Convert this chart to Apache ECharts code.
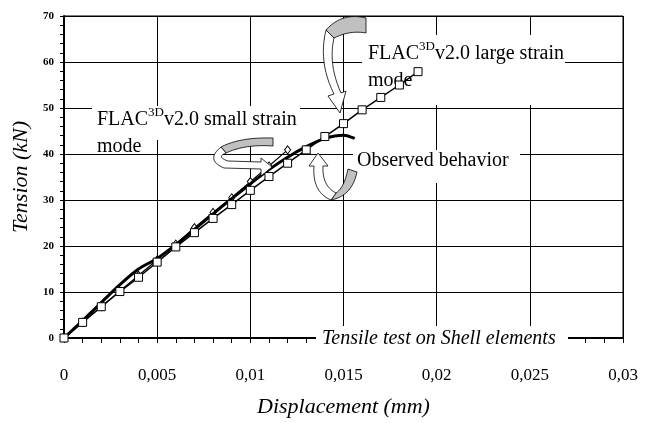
<!DOCTYPE html>
<html>
<head>
<meta charset="utf-8">
<script src="https://cdn.jsdelivr.net/npm/echarts@6/dist/echarts.min.js"></script>
<style>
  html, body { margin: 0; padding: 0; background: #fff; }
  #chart { width: 645px; height: 423px; }
</style>
</head>
<body>
<div id="chart"></div>
<script>
// data
const largeX = [0, 0.001, 0.002, 0.003, 0.004, 0.005, 0.006, 0.007, 0.008, 0.009, 0.010, 0.011, 0.012, 0.013, 0.014, 0.015, 0.016, 0.017, 0.018, 0.019];
const largeY = [0, 3.4, 6.8, 10.1, 13.2, 16.5, 19.8, 22.9, 26, 29, 32.1, 35.1, 38, 40.9, 43.8, 46.6, 49.6, 52.3, 55, 57.9];
const smallX = [0, 0.001, 0.002, 0.003, 0.004, 0.005, 0.006, 0.007, 0.008, 0.009, 0.010, 0.011, 0.012];
const smallY = [0, 3.4, 6.8, 10.2, 13.6, 17, 20.4, 24, 27.3, 30.5, 34, 37.4, 40.9];
const obsX = [0, 0.001, 0.002, 0.003, 0.004, 0.005, 0.006, 0.007, 0.008, 0.009, 0.010, 0.011, 0.012, 0.013, 0.014, 0.015, 0.0156];
const obsY = [0, 3.8, 7.7, 11.6, 15.0, 17.3, 20.3, 23.6, 27, 30.3, 33.5, 36.6, 39.3, 41.6, 43.4, 44.1, 43.4];

const serif = 'Liberation Serif';

function pairs(xs, ys){
    return xs.map((x, i) => [x, ys[i]]);
}

// turn a tiny M/L/Q path string into polygon points (decoration arrows only)
function pathPoints(d){
    const tok = d.match(/[MLQZ]|-?[\d.]+/g);
    const pts = [];
    let i = 0, cur = [0, 0];
    while (i < tok.length) {
        const c = tok[i++];
        if (c === 'M' || c === 'L') {
            cur = [+tok[i], +tok[i + 1]]; i += 2;
            pts.push(cur);
        } else if (c === 'Q') {
            const c1 = [+tok[i], +tok[i + 1]], p = [+tok[i + 2], +tok[i + 3]]; i += 4;
            for (let k = 1; k <= 12; k++) {
                const t = k / 12, u = 1 - t;
                pts.push([u * u * cur[0] + 2 * u * t * c1[0] + t * t * p[0], u * u * cur[1] + 2 * u * t * c1[1] + t * t * p[1]]);
            }
            cur = p;
        }
    }
    return pts;
}

function shape(d, fill){
    return { type: 'polygon', z: 10, shape: { points: pathPoints(d) },
             style: { fill: fill, stroke: '#000', lineWidth: 0.8 } };
}

// white label boxes that hide the grid lines behind the texts
function box(x, y, w, h){
    return { type: 'rect', z: 1, shape: { x: x, y: y, width: w, height: h }, style: { fill: '#fff' } };
}

const chart = echarts.init(document.getElementById('chart'));

const flacRich = {
    b: { fontFamily: serif, fontSize: 20, color: '#000', lineHeight: 27 },
    sup: { fontFamily: serif, fontSize: 13, color: '#000', verticalAlign: 'top', lineHeight: 27 }
};

chart.setOption({
    animation: false,
    grid: {
        left: 64, right: 22, top: 16, bottom: 70,
        show: true, borderColor: '#000', borderWidth: 1
    },
    xAxis: {
        type: 'value',
        min: 0, max: 0.03, interval: 0.005,
        name: 'Displacement (mm)',
        nameLocation: 'middle',
        nameGap: 58,
        nameTextStyle: { fontFamily: serif, fontStyle: 'italic', fontSize: 22, color: '#000' },
        axisLine: { show: true, lineStyle: { color: '#000', width: 2 } },
        axisTick: { show: true, inside: false, length: 5, lineStyle: { color: '#000' } },
        minorTick: { show: true, splitNumber: 5, length: 5, lineStyle: { color: '#000' } },
        splitLine: { show: true, lineStyle: { color: '#000', width: 1 } },
        axisLabel: {
            margin: 29,
            fontFamily: serif, fontSize: 17, color: '#000',
            formatter: v => String(+v.toFixed(3)).replace('.', ',')
        }
    },
    yAxis: {
        type: 'value',
        min: 0, max: 70, interval: 10,
        name: 'Tension (kN)',
        nameLocation: 'middle',
        nameGap: 31,
        nameTextStyle: { fontFamily: serif, fontStyle: 'italic', fontSize: 22, color: '#000' },
        axisLine: { show: true, lineStyle: { color: '#000', width: 2 } },
        axisTick: { show: true, inside: false, length: 4, lineStyle: { color: '#000' } },
        minorTick: { show: true, splitNumber: 5, length: 4, lineStyle: { color: '#000' } },
        splitLine: { show: true, lineStyle: { color: '#000', width: 1 } },
        axisLabel: {
            margin: 10,
            fontFamily: serif, fontSize: 11, fontWeight: 'bold', color: '#000'
        }
    },
    series: [
        {
            name: 'small strain',
            type: 'line',
            data: pairs(smallX, smallY),
            symbol: 'diamond',
            symbolSize: [6, 8],
            showAllSymbol: true,
            lineStyle: { color: '#000', width: 1.2 },
            itemStyle: { color: '#fff', borderColor: '#000', borderWidth: 1 },
            z: 3
        },
        {
            name: 'observed',
            type: 'line',
            data: pairs(obsX, obsY),
            smooth: 0.3,
            symbol: 'none',
            lineStyle: { color: '#000', width: 3 },
            z: 4
        },
        {
            name: 'large strain',
            type: 'line',
            data: pairs(largeX, largeY),
            symbol: 'rect',
            symbolSize: 8,
            showAllSymbol: true,
            lineStyle: { color: '#000', width: 1.5 },
            itemStyle: { color: '#fff', borderColor: '#000', borderWidth: 1 },
            z: 5
        }
    ],
    graphic: [
        box(92, 106, 208, 34),
        box(362, 35, 203, 70),
        box(353, 150, 167, 33),
        box(316, 326, 252, 24),
        // labels
        { type: 'text', left: 368, top: 40, z: 1,
          style: { text: '{b|FLAC}{sup|3D}{b|v2.0 large strain}\n{b|mode}', rich: flacRich } },
        { type: 'text', left: 97, top: 106, z: 1,
          style: { text: '{b|FLAC}{sup|3D}{b|v2.0 small strain}\n{b|mode}', rich: flacRich } },
        { type: 'text', left: 357, top: 151, z: 1,
          style: { text: 'Observed behavior', fontFamily: serif, fontSize: 20, fill: '#000' } },
        { type: 'text', left: 322, top: 329, z: 1,
          style: { text: 'Tensile test on Shell elements', fontFamily: serif, fontStyle: 'italic', fontSize: 20, fill: '#000' } },
        // small strain arrow
        shape('M221,147 Q240,137 273,138 L273,146 Q245,144 226,153 Z', '#c0c0c0'),
        shape('M221,147 Q205,160 224,168 L261,169 L261,176 L272,167 L261,158 L261,162 L228,161 Q216,157 226,153 Z', '#fff'),
        // observed arrow
        shape('M331,200 Q352,196 357,172 L348,169 Q344,188 336,193 Z', '#c0c0c0'),
        shape('M318,153 L309,166 L314,166 Q312,192 331,200 L336,193 Q322,186 323,166 L328,166 Z', '#fff'),
        // large strain arrow
        shape('M326,30 Q342,12 366,18 L366,33 Q350,30 334,38 Z', '#c0c0c0'),
        shape('M326,30 Q318,62 334,94 L328,96 L340,113 L346,91 L341,93 Q328,64 334,38 Z', '#fff')
    ]
});
</script>
</body>
</html>
